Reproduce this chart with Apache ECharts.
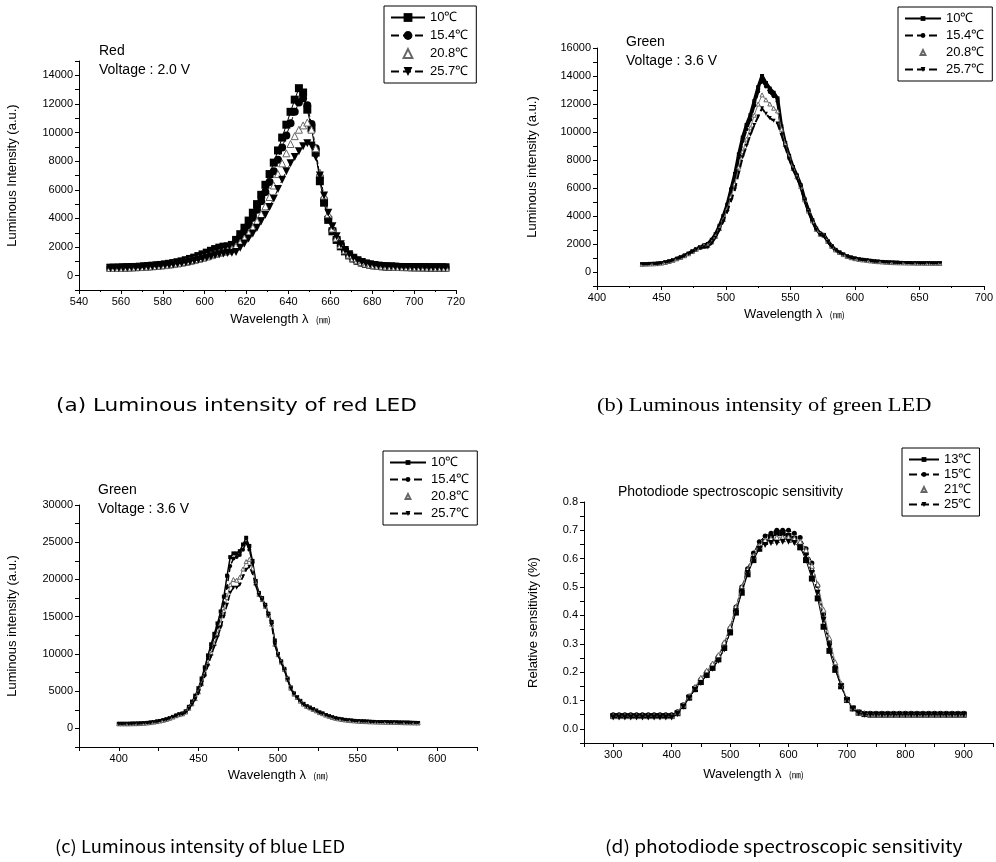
<!DOCTYPE html>
<html><head><meta charset="utf-8">
<script src="https://cdn.jsdelivr.net/npm/echarts@6/dist/echarts.min.js"></script>
<style>html,body{margin:0;padding:0;background:#fff}#c{width:996px;height:862px}</style>
</head><body><div id="c"></div>
<script>
// ---------- Panel (a): red LED ----------
const waveA = [555,557,559,561,563,565,567,569,571,573,575,577,579,581,583,585,587,589,591,593,595,597,599,601,603,605,607,609,611,613,615,617,619,621,623,625,627,629,631,633,635,637,639,641,643,645,647,649,651,653,655,657,659,661,663,665,667,669,671,673,675,677,679,681,683,685,687,689,691,693,695,697,699,701,703,705,707,709,711,713,715];
const red10 = [560,560,570,580,590,600,610,630,650,670,700,720,750,790,830,880,940,1000,1080,1170,1260,1370,1490,1610,1740,1860,1960,2030,2050,2150,2500,2900,3350,3850,4400,5000,5650,6350,7100,7900,8750,9650,10550,11450,12300,13100,12800,11600,10300,8600,6600,5100,3900,3100,2500,2050,1700,1420,1200,1040,920,830,770,720,690,660,640,630,620,610,600,600,590,590,585,580,580,575,575,570,570];
const red15 = [550,555,560,570,580,590,600,615,635,655,680,705,735,770,810,855,910,970,1040,1120,1210,1310,1420,1540,1660,1780,1880,1960,2000,2080,2350,2700,3100,3550,4050,4600,5200,5850,6550,7300,8100,8950,9800,10650,11450,12100,12400,11900,10600,8900,6900,5300,4000,3150,2550,2080,1720,1440,1210,1050,930,840,775,725,690,665,645,630,620,610,605,600,595,590,585,585,580,580,575,575,570];
const red20 = [540,545,550,555,565,575,585,600,615,635,655,680,705,735,770,810,855,905,960,1020,1090,1170,1250,1340,1430,1520,1600,1670,1740,1850,2050,2300,2600,2950,3350,3800,4300,4850,5500,6300,7100,7850,8550,9200,9750,10200,10500,10700,10200,8900,7200,5600,4300,3300,2650,2150,1770,1470,1240,1070,950,850,780,730,700,670,650,635,625,615,605,600,595,590,585,585,580,580,575,575,570];
const red25 = [530,535,540,545,555,565,575,590,605,625,645,670,695,725,755,790,830,875,925,980,1040,1110,1180,1260,1340,1420,1490,1550,1590,1610,1650,1950,2250,2600,2950,3350,3800,4250,4800,5400,6050,6700,7300,7850,8300,8700,9050,9250,9100,8300,7000,5600,4400,3450,2750,2200,1800,1500,1260,1080,960,860,790,740,700,670,650,635,625,615,605,600,595,590,585,585,580,580,575,575,570];

// ---------- Panel (b): green LED ----------
const waveB = [435,438,441,444,447,450,453,456,459,462,465,468,471,474,477,480,483,486,489,492,495,498,501,504,507,510,513,516,519,522,525,528,531,534,537,540,543,546,549,552,555,558,561,564,567,570,573,576,579,582,585,588,591,594,597,600,603,606,609,612,615,618,621,624,627,630,633,636,639,642,645,648,651,654,657,660,663,666];
const green10 = [560,570,580,590,610,640,690,760,850,950,1060,1180,1320,1480,1640,1780,1900,2000,2300,2700,3300,4000,4800,5900,7000,8400,9600,10500,11200,12200,13200,14000,13500,13100,12800,12400,10400,9200,8300,7500,6900,6200,5200,4400,3700,3100,2750,2650,2200,1850,1580,1400,1250,1120,1030,960,910,870,840,800,770,740,720,700,680,670,660,650,645,640,635,630,630,625,625,620,620,620];
const green15 = [555,565,575,585,605,635,685,755,845,945,1050,1170,1310,1470,1630,1770,1880,1950,2250,2650,3250,3950,4750,5800,6850,8200,9350,10200,10900,11900,12900,13700,13250,12850,12550,12200,10300,9150,8250,7450,6850,6150,5200,4400,3700,3100,2750,2650,2200,1850,1580,1400,1250,1120,1030,960,910,870,840,800,770,740,720,700,680,670,660,650,645,640,635,630,630,625,625,620,620,620];
const green20 = [550,560,570,580,600,630,680,750,840,940,1040,1160,1300,1460,1620,1750,1850,1900,2150,2550,3100,3750,4500,5400,6300,7500,8600,9500,10300,11200,12000,12650,12300,12000,11700,11500,10200,9100,8200,7400,6800,6100,5150,4350,3650,3050,2700,2600,2180,1830,1570,1390,1240,1110,1020,950,900,860,830,790,760,735,715,695,675,665,655,648,642,638,632,628,627,623,622,618,618,618];
const green25 = [545,555,565,575,595,625,675,745,830,930,1030,1150,1290,1440,1590,1700,1760,1750,2050,2450,3000,3600,4300,5100,5900,7100,8200,9000,9800,10500,11100,11700,11300,11000,10800,10600,9800,8900,8050,7300,6700,6050,5100,4300,3600,3000,2650,2550,2150,1800,1560,1380,1230,1100,1010,940,890,850,820,785,755,730,710,690,672,662,652,645,640,636,630,627,625,622,620,617,617,617];

// ---------- Panel (c): blue LED ----------
const waveC = [400,402,404,406,408,410,412,414,416,418,420,422,424,426,428,430,432,434,436,438,440,442,444,446,448,450,452,454,456,458,460,462,464,466,468,470,472,474,476,478,480,482,484,486,488,490,492,494,496,498,500,502,504,506,508,510,512,514,516,518,520,522,524,526,528,530,532,534,536,538,540,542,544,546,548,550,552,554,556,558,560,562,564,566,568,570,572,574,576,578,580,582,584,586,588];
const blue10 = [620,620,620,620,630,640,650,670,700,740,790,850,920,1000,1100,1230,1380,1550,1730,1900,2000,2300,2900,3600,4400,5400,6700,8200,9800,11300,12700,14100,15700,17700,20500,23000,23500,23500,23800,24700,25600,24500,22500,19800,18200,17500,16600,15400,14300,11800,10000,9000,8000,6700,5500,4700,4200,3700,3300,3000,2800,2600,2400,2150,2000,1800,1650,1500,1380,1280,1200,1140,1090,1050,1010,980,950,930,910,890,870,860,850,840,830,820,810,800,790,780,770,760,750,740,730];
const blue15 = [615,615,615,615,625,635,645,665,695,735,785,845,915,995,1095,1225,1375,1545,1725,1895,2000,2250,2800,3450,4200,5150,6400,7850,9400,10900,12300,13600,15000,16800,19000,21800,22800,23000,23300,24000,24900,24000,22200,19600,18100,17400,16500,15300,14200,11600,9950,8950,7950,6650,5450,4650,4150,3650,3250,2950,2780,2580,2380,2130,1980,1790,1640,1490,1370,1270,1190,1130,1080,1040,1000,970,940,920,900,880,860,850,840,830,820,810,800,790,780,770,760,750,740,730,720];
const blue20 = [610,610,610,610,620,630,640,660,690,730,780,840,910,990,1090,1210,1360,1520,1700,1850,1950,2200,2700,3300,4000,4900,6000,7300,8700,10100,11400,12700,14100,15800,17600,19300,20000,19900,20300,21400,22400,22700,21500,19500,18000,17300,16400,15200,14000,11300,9900,8900,7900,6600,5400,4600,4150,3650,3250,2950,2750,2550,2350,2120,1970,1780,1630,1480,1360,1270,1190,1130,1080,1040,1000,970,940,920,900,880,860,850,840,830,820,810,800,790,780,770,760,750,740,730,720];
const blue25 = [600,600,600,600,610,620,630,650,680,720,770,830,900,980,1080,1200,1340,1500,1680,1830,1900,2150,2600,3200,3900,4700,5800,7000,8400,9700,11000,12200,13500,15000,16600,18200,18900,18900,19300,20400,21300,21700,20800,19200,17900,17200,16300,15100,13900,11200,9800,8800,7800,6500,5350,4550,4100,3600,3200,2900,2700,2500,2300,2100,1950,1760,1610,1460,1340,1260,1180,1120,1070,1030,990,960,930,910,890,870,850,840,830,820,810,800,790,780,770,760,750,740,730,720,710];

// ---------- Panel (d): photodiode ----------
const waveD = [300,310,320,330,340,350,360,370,380,390,400,410,420,430,440,450,460,470,480,490,500,510,520,530,540,550,560,570,580,590,600,610,620,630,640,650,660,670,680,690,700,710,720,730,740,750,760,770,780,790,800,810,820,830,840,850,860,870,880,890,900];
const pd13 = [0.045,0.045,0.045,0.045,0.045,0.045,0.045,0.045,0.045,0.045,0.045,0.055,0.08,0.11,0.14,0.165,0.19,0.215,0.245,0.285,0.34,0.41,0.48,0.545,0.595,0.635,0.66,0.675,0.69,0.69,0.68,0.67,0.64,0.595,0.53,0.46,0.36,0.275,0.208,0.15,0.102,0.072,0.057,0.052,0.05,0.05,0.05,0.05,0.05,0.05,0.05,0.05,0.05,0.05,0.05,0.05,0.05,0.05,0.05,0.05,0.05];
const pd15 = [0.05,0.05,0.05,0.05,0.05,0.05,0.05,0.05,0.05,0.05,0.05,0.06,0.085,0.115,0.145,0.175,0.2,0.225,0.255,0.3,0.355,0.43,0.5,0.565,0.62,0.66,0.68,0.69,0.7,0.7,0.7,0.69,0.675,0.635,0.585,0.505,0.405,0.305,0.22,0.155,0.105,0.075,0.06,0.055,0.055,0.055,0.055,0.055,0.055,0.055,0.055,0.055,0.055,0.055,0.055,0.055,0.055,0.055,0.055,0.055,0.055];
const pd21 = [0.045,0.045,0.045,0.045,0.045,0.045,0.045,0.045,0.045,0.045,0.045,0.058,0.085,0.115,0.148,0.18,0.205,0.23,0.26,0.305,0.36,0.43,0.5,0.56,0.61,0.645,0.665,0.67,0.675,0.675,0.675,0.67,0.66,0.63,0.575,0.51,0.42,0.32,0.235,0.16,0.105,0.075,0.06,0.055,0.052,0.052,0.052,0.052,0.052,0.052,0.052,0.052,0.052,0.052,0.052,0.052,0.052,0.052,0.052,0.052,0.052];
const pd25 = [0.04,0.04,0.04,0.04,0.04,0.04,0.04,0.04,0.04,0.04,0.04,0.052,0.078,0.108,0.138,0.162,0.188,0.212,0.24,0.28,0.34,0.415,0.485,0.55,0.6,0.635,0.648,0.655,0.655,0.66,0.66,0.655,0.64,0.61,0.55,0.48,0.385,0.29,0.21,0.15,0.1,0.07,0.055,0.05,0.05,0.05,0.05,0.05,0.05,0.05,0.05,0.05,0.05,0.05,0.05,0.05,0.05,0.05,0.05,0.05,0.05];

// ---------- labels ----------
const ledTemps = ['10℃','15.4℃','20.8℃','25.7℃'];
const pdTemps = ['13℃','15℃','21℃','25℃'];
const captions = ['(a) Luminous intensity of red LED','(b) Luminous intensity of green LED','(c) Luminous intensity of blue LED','(d) photodiode spectroscopic sensitivity'];

const SANS = 'Liberation Sans, Arial, sans-serif';
const zip = (xs, ys) => xs.map((x, i) => [x, ys[i]]);

const panels = [
  { id:'a', grid:{left:79, top:61, width:377, height:229},
    x:{min:540,max:720,interval:20,step:20,minor:true},
    y:{min:-1000,max:15000,interval:1000,step:2000},
    yName:'Luminous Intensity (a.u.)', yGap:60, xGap:23, xPad:[0,0,0,26],
    names:ledTemps, xs:waveA, ys:[red10,red15,red20,red25], size:[8,8,7,8], lw:[1,1,0,1],
    legend:{left:384, top:6, itemGap:5, itemHeight:11, itemWidth:34} },
  { id:'b', grid:{left:597, top:48, width:388, height:238},
    x:{min:400,max:700,interval:50,step:50,minor:true},
    y:{min:-1000,max:16000,interval:1000,step:2000},
    yName:'Luminous intensity (a.u.)', yGap:58, xGap:22, xPad:[0,0,0,8],
    names:ledTemps, xs:waveB, ys:[green10,green15,green20,green25], size:[4,4,4,4], lw:[3.5,2.5,1,2],
    legend:{left:898, top:7, itemGap:4, itemHeight:6, itemWidth:36} },
  { id:'c', grid:{left:79, top:505, width:398, height:242},
    x:{min:375,max:625,interval:25,step:50,minor:false},
    y:{min:-2500,max:30000,interval:2500,step:5000},
    yName:'Luminous intensity (a.u.)', yGap:60, xGap:22, xPad:[0,0,0,0],
    names:ledTemps, xs:waveC, ys:[blue10,blue15,blue20,blue25], size:[4,4,4,4], lw:[1.5,1.5,1,1.5],
    legend:{left:383, top:451, itemGap:4, itemHeight:6, itemWidth:36} },
  { id:'d', grid:{left:584, top:502, width:412, height:241},
    x:{min:250,max:950,interval:50,step:100,minor:false},
    y:{min:-0.05,max:0.8,interval:0.05,step:0.1,dec:1},
    yName:'Relative sensitivity (%)', yGap:44, xGap:25, xPad:[0,70,0,0],
    names:pdTemps, xs:waveD, ys:[pd13,pd15,pd21,pd25], size:[6,5,5,6], lw:[1,1,0.8,1],
    legend:{left:902, top:448, itemGap:2, itemHeight:6, itemWidth:30} }
];

const symbols = ['rect','circle','triangle','triangle'];
const rot = [0,0,0,180];
const dash = ['solid','dashed','solid','dashed'];

const grid = [], xAxis = [], yAxis = [], series = [], legend = [];
const labelMap = {};

panels.forEach((p, k) => {
  grid.push(Object.assign({containLabel:false}, p.grid));
  xAxis.push({
    type:'value', gridIndex:k, min:p.x.min, max:p.x.max, interval:p.x.interval,
    axisLine:{show:true, onZero:false, lineStyle:{color:'#000', width:1}},
    axisTick:{show:true, length:4, lineStyle:{color:'#000'}},
    minorTick:{show:p.x.minor, splitNumber:2, length:2, lineStyle:{color:'#000'}},
    splitLine:{show:false},
    axisLabel:{color:'#000', fontSize:11, fontFamily:SANS, margin:6, showMinLabel:true, showMaxLabel:true,
      formatter:v => (Math.round(v) % p.x.step === 0 ? String(Math.round(v)) : '')},
    name:'Wavelength λ  {u|(㎚)}', nameLocation:'middle', nameGap:p.xGap,
    nameTextStyle:{color:'#000', fontSize:13, fontFamily:SANS, padding:p.xPad,
      rich:{u:{fontSize:9, fontFamily:'Noto Sans CJK KR', color:'#000'}}}
  });
  yAxis.push({
    type:'value', gridIndex:k, min:p.y.min, max:p.y.max, interval:p.y.interval,
    axisLine:{show:true, onZero:false, lineStyle:{color:'#000', width:1}},
    axisTick:{show:true, length:4, lineStyle:{color:'#000'}},
    splitLine:{show:false},
    axisLabel:{color:'#000', fontSize:11, fontFamily:SANS, margin:6,
      formatter:v => {
        if (p.y.dec) {
          const t = Math.round(v*100);
          return (Math.abs(t) % 10 === 0) ? (t/100).toFixed(1) : '';
        }
        return (Math.round(v) % p.y.step === 0) ? String(Math.round(v)) : '';
      }},
    name:p.yName, nameLocation:'middle', nameRotate:90, nameGap:p.yGap,
    nameTextStyle:{color:'#000', fontSize:13, fontFamily:SANS}
  });
  const legData = [];
  p.names.forEach((nm, j) => {
    const sname = p.id + '#' + nm;
    labelMap[sname] = nm;
    const hollow = (j === 2);
    legData.push(hollow ? {name:sname, lineStyle:{opacity:0, width:0}} : {name:sname});
    series.push({
      type:'line', name:sname, xAxisIndex:k, yAxisIndex:k,
      data:zip(p.xs, p.ys[j]),
      symbol:symbols[j], symbolRotate:rot[j], symbolSize:p.size[j], showSymbol:true,
      lineStyle:{color: hollow ? '#777' : '#000', width:p.lw[j], type:dash[j], opacity: p.lw[j] > 0 ? 1 : 0},
      itemStyle: hollow ? {color:'#fff', borderColor:'#666', borderWidth:1} : {color:'#000', borderColor:'#000', borderWidth:0},
      emphasis:{disabled:true}, silent:true, z:2+j
    });
  });
  legend.push({
    data:legData, orient:'vertical', left:p.legend.left, top:p.legend.top, itemGap:p.legend.itemGap,
    itemWidth:p.legend.itemWidth, itemHeight:p.legend.itemHeight, padding:[5,8,5,6],
    borderColor:'#000', borderWidth:1, backgroundColor:'#fff', selectedMode:false,
    formatter:n => labelMap[n], textStyle:{color:'#000', fontSize:13, fontFamily:SANS}
  });
});

const txt = (x, y, s, fs) => ({type:'text', left:x, top:y,
  style:{text:s, fill:'#000', font: fs + 'px ' + SANS}});
const cap = (x, y, s, font, sx) => ({type:'text', x:x, y:y, scaleX:sx,
  style:{text:s, fill:'#000', font:font, textVerticalAlign:'middle'}});

const graphic = [
  txt(99, 44, 'Red', 14), txt(99, 63, 'Voltage : 2.0 V', 14),
  txt(626, 35, 'Green', 14), txt(626, 54, 'Voltage : 3.6 V', 14),
  txt(98, 483, 'Green', 14), txt(98, 502, 'Voltage : 3.6 V', 14),
  txt(618, 485, 'Photodiode spectroscopic sensitivity', 14),
  cap(56, 406, captions[0], '18px "DejaVu Sans"', 1.2),
  cap(597, 406, captions[1], '19px "Liberation Serif"', 1.18),
  cap(55, 847, captions[2], '17px "Noto Sans CJK KR"', 1.08),
  cap(605, 847, captions[3], '17px "Noto Sans CJK KR"', 1.13)
];

const chart = echarts.init(document.getElementById('c'), null, {renderer:'canvas'});
chart.setOption({animation:false, backgroundColor:'#fff', grid, xAxis, yAxis, series, legend, graphic});
</script></body></html>
